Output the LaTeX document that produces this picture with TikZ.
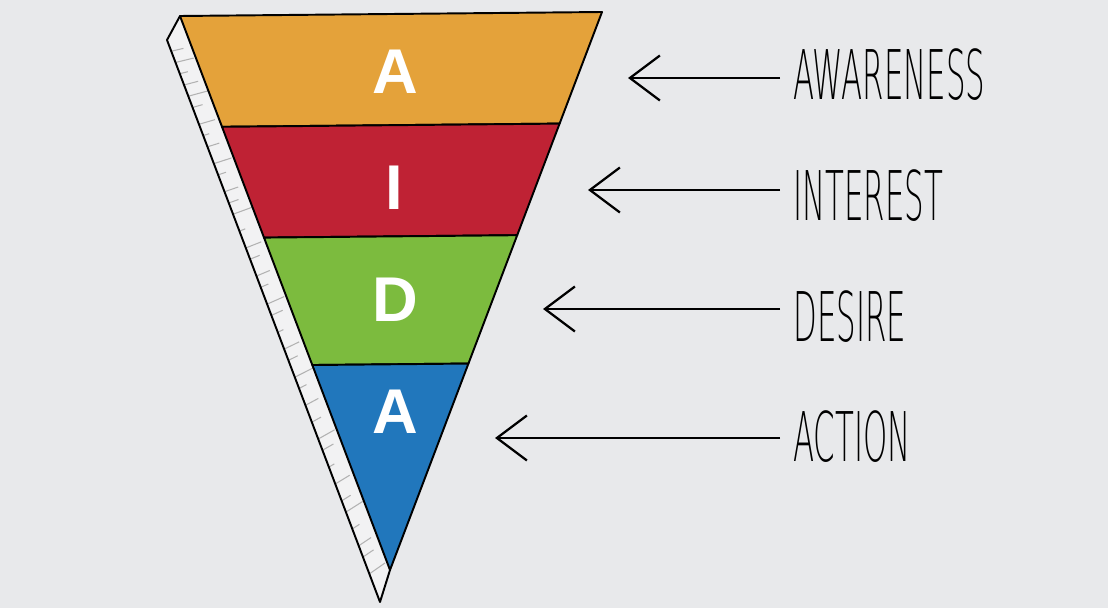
\documentclass[tikz,border=0pt]{standalone}
\usepackage{fontspec}
\usepackage{graphicx}
\setmainfont{Liberation Sans}
\newfontfamily\handfont{DejaVu Sans ExtraLight}
\usetikzlibrary{calc,arrows.meta}
\definecolor{bgcol}{HTML}{E8E9EB}
\definecolor{aorange}{HTML}{E4A23A}
\definecolor{ired}{HTML}{BF2234}
\definecolor{dgreen}{HTML}{7CBB3E}
\definecolor{ablue}{HTML}{2177BC}
\definecolor{sidecol}{HTML}{F2F2F3}
\newcommand{\narrow}[1]{\scalebox{0.45}[1]{#1}}

\begin{document}
\begin{tikzpicture}[x=0.02cm,y=-0.02cm,
    band/.style={draw=black,line width=1.1pt,line join=round},
    letter/.style={text=white,inner sep=0,font=\fontsize{36}{36}\selectfont\bfseries},
    stage/.style={anchor=west,inner xsep=0.26cm,inner ysep=0,font=\handfont\fontsize{39}{39}\selectfont},
    pointer/.style={line width=1.3pt,-{Straight Barb[length=0.6cm,width=0.9cm,line width=1.3pt]}}]
    \fill[bgcol] (0,0) rectangle (1108,608);
    % funnel corners
    \coordinate (tl) at (180,16);
    \coordinate (tr) at (602,12);
    \coordinate (tip) at (390,570);
    \coordinate (pt) at (167,40);
    \coordinate (pb) at (380,602);
    % side panel
    \fill[sidecol] (tl) -- (pt) -- (pb) -- (tip) -- cycle;
    \foreach \t/\s in {0.02/0.6,0.04/0.9,0.06/0.4,0.08/0.7,0.1/1,0.12/0.5,0.15/0.8,0.17/0.3,0.19/0.6,0.22/0.9,0.24/0.4,0.27/0.7,0.29/0.5,0.31/1,0.34/0.3,0.37/0.8,0.39/0.5,0.42/0.7,0.44/0.4,0.47/0.9,0.49/0.6,0.52/0.3,0.55/0.8,0.57/0.5,0.6/1,0.62/0.4,0.65/0.7,0.68/0.5,0.71/0.9,0.73/0.6,0.76/0.3,0.79/0.8,0.82/0.5,0.84/1,0.87/0.4,0.9/0.7,0.92/0.6,0.95/0.9}
        \draw[gray!60,line width=0.6pt] ($(pt)!\t!(pb)$) -- ($(pt)!\t!(pb)!\s!($(tl)!{\t+0.035}!(tip)$)$);
    \draw[line width=1.1pt,line join=round] (tl) -- (pt) -- (pb) -- (tip);
    % bands
    \foreach \a/\b/\c in {0/0.2/aorange,0.2/0.4/ired,0.4/0.63/dgreen,0.63/1/ablue}
        \filldraw[band,fill=\c] ($(tl)!\a!(tip)$) -- ($(tr)!\a!(tip)$) -- ($(tr)!\b!(tip)$) -- ($(tl)!\b!(tip)$) -- cycle;
    \node[letter] (la) at (395,72) {A};
    \node[letter] (li) at (394,188) {I};
    \node[letter] (ld) at (395,300) {D};
    \node[letter] (lb) at (395,412) {A};
    % stages
    \node[stage] (aware) at (780,75) {\narrow{AWARENESS}};
    \node[stage] (inter) at (780,196) {\narrow{INTEREST}};
    \node[stage] (desire) at (780,317) {\narrow{DESIRE}};
    \node[stage] (action) at (780,437) {\narrow{ACTION}};
    \coordinate (aw) at (628,78);
    \coordinate (in) at (588,190);
    \coordinate (de) at (543,309);
    \coordinate (ac) at (495,438);
    \draw[pointer] (aw -| aware.west) -- (aw);
    \draw[pointer] (in -| inter.west) -- (in);
    \draw[pointer] (de -| desire.west) -- (de);
    \draw[pointer] (ac -| action.west) -- (ac);
\end{tikzpicture}
\end{document}
